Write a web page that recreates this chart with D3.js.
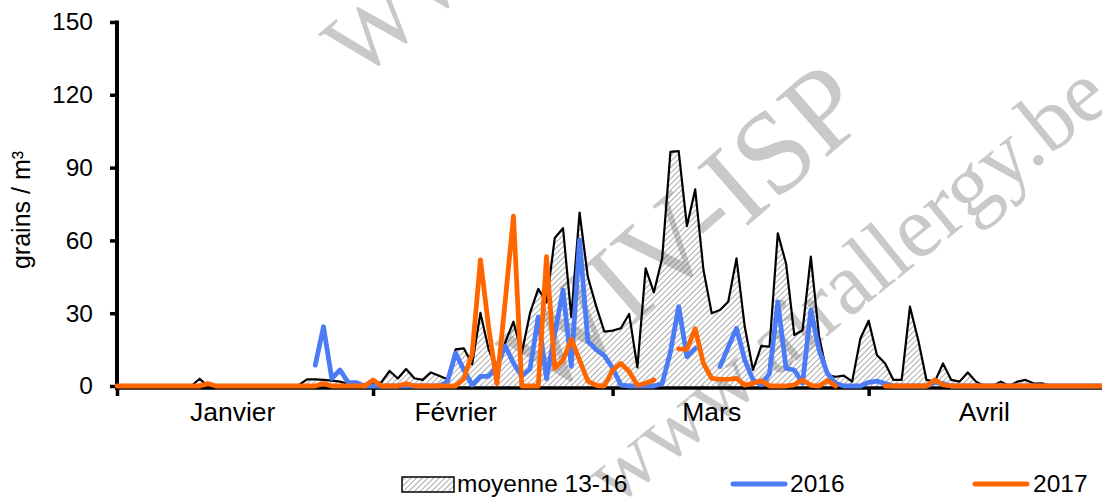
<!DOCTYPE html>
<html>
<head>
<meta charset="utf-8">
<script src="https://cdn.jsdelivr.net/npm/d3@7"></script>
<style>
  html, body { margin: 0; padding: 0; background: #fff; }
  svg { display: block; font-family: "Liberation Sans", Arial, sans-serif; }
</style>
</head>
<body>
<svg id="chart" width="1102" height="500"></svg>
<script>
// ---------- DATA (one value per day, starting 1 January) ----------
const startDate = "2016-01-01";
const seriesNames = ["moyenne 13-16", "2016", "2017"];
const monthLabels = ["Janvier", "Février", "Mars", "Avril"];
const monthStarts = ["2016-01-01", "2016-02-01", "2016-03-01", "2016-04-01"];
const monthLabelDates = ["2016-01-15", "2016-02-11", "2016-03-13", "2016-04-15"];
const yTicks = [0, 30, 60, 90, 120, 150];

const moyenne = [
  0,0,0,0,0,0,0,0,0,0, 3,0,0,0,0,0,0,0,0,0,
  0,0,0.3,2.7,2.7,2.5,2.2,1.8,0.8,0.5, 0.8,1.2,1.5,6.2,3.1,7,3.2,2.5,5.6,4.2,
  2.8,15.1,15.5,9,30.1,15,7,18,26.5,13.5, 30,40,34.5,61,65,28.5,71.5,45,33,22.4,
  22.8,23.8,29.7,7.7,48.5,38.6,52.6,96.5,96.8,65.9, 81,47.8,30,31.3,34.7,52.6,24.4,6.6,16.5,16.2,
  62.9,50.5,21,23,53.3,20.3,4.5,3.8,4.3,1.8, 19.6,26.9,12.8,9.3,2.5,2.5,32.7,19,2.5,1.8,
  9.3,2.5,1.8,5.6,1.8,0,0,1.8,0,1.8, 2.5,1,1.1,0,0,0,0,0,0,0, 0
];
const y2016 = [
  null,null,null,null,null,null,null,null,null,null, null,null,null,null,null,null,null,null,null,null,
  null,null,null,null,8.6,24.4,3.1,6.6,1.4,1.4, 0,0,0,0,0,0,0,0,0,0,
  1.8,13.5,6.5,0.4,4,4,8,16.5,9.5,4, 7,28.5,3,21.7,39.5,8,60.2,18.5,15,12.5,
  7.5,0.4,0,0,0,0,1,14,32.7,12.1, 15.5,null,null,8,16,23.8,10.7,2.5,0.5,5.2,
  34.7,7.3,6.6,1.1,31.3,14.8,5.2,1.1,0,0, 0,1.5,2,1,0,0,0,0,0,1.5,
  1,0,0,0,0,0,0,0,0,0, 0,0,0,0,0,0,0,0,0,0, 0
];
const y2017 = [
  0,0,0,0,0,0,0,0,0,0, 0,1,0,0,0,0,0,0,0,0,
  0,0,0,0,0,1,0,0,0,0, 0,2.5,0,0,0,1,0,0,0,0,
  0,0,3,13.5,52,24,1,35,70,0, 0,0,53.3,7.3,10.7,19.3,10.7,2,0.3,0,
  6.5,9.3,6,0.3,1.1,2.5,null,null,15.3,15.1, 23.6,9.3,3.1,2.7,2.7,3.1,0.4,1.1,2.2,0,
  0,0,0.5,2.5,0.3,0,2.3,0,null,null, null,null,null,0,0,0,0,0,0,2.5,
  0.5,0,0,0,0,0,0,0,0,0, 0,0,0,0,0,0,0,0,0,0, 0
];

// ---------- CHART ----------
const svg = d3.select("#chart");
const parse = d3.timeParse("%Y-%m-%d");
const t0 = parse(startDate);
const dayDate = i => d3.timeDay.offset(t0, i);
const nDays = moyenne.length;

const x = d3.scaleTime()
  .domain([t0, dayDate(nDays - 1)])
  .range([117, 117 + (nDays - 1) * 8.26]);
const y = d3.scaleLinear().domain([0, 150]).range([386, 22]);

const toPts = arr => arr.map((v, i) => ({ date: dayDate(i), v }));

// hatch pattern
const defs = svg.append("defs");
const pat = defs.append("pattern")
  .attr("id", "hatch").attr("patternUnits", "userSpaceOnUse")
  .attr("width", 4).attr("height", 4)
  .attr("patternTransform", "rotate(45)");
pat.append("line").attr("x1", 0).attr("y1", 0).attr("x2", 0).attr("y2", 4)
  .attr("stroke", "#555").attr("stroke-width", 1);

// watermark
const wm = svg.append("g").attr("fill", "#c9c9c9")
  .style("font-family", "'Liberation Serif', 'DejaVu Serif', serif");
wm.append("text").attr("transform", "translate(358,82) rotate(-40)")
  .style("font-size", "95px").text("WWW");
wm.append("text").attr("transform", "translate(545,402) rotate(-41)")
  .style("font-size", "118px").text("WIV-ISP");
wm.append("text").attr("transform", "translate(615,508) rotate(-39)")
  .style("font-size", "88px").text("www.airallergy.be");

// area (moyenne)
const area = d3.area()
  .x(d => x(d.date)).y0(y(0)).y1(d => y(d.v));
const lineGen = d3.line()
  .defined(d => d.v !== null)
  .x(d => x(d.date)).y(d => y(d.v));

svg.append("path").datum(toPts(moyenne))
  .attr("d", area).attr("fill", "url(#hatch)");
svg.append("path").datum(toPts(moyenne))
  .attr("d", lineGen).attr("fill", "none")
  .attr("stroke", "#000").attr("stroke-width", 2.2).attr("stroke-linejoin", "round");

// axes
const yAxis = d3.axisLeft(y).tickValues(yTicks).tickSize(7).tickPadding(17);
const gy = svg.append("g").attr("transform", "translate(117,0)").call(yAxis);
gy.select(".domain").attr("stroke-width", 4).attr("d", "M0,20.5V390");
gy.selectAll(".tick line").attr("stroke-width", 3.5);
gy.selectAll(".tick text").style("font-size", "24.5px").attr("fill", "#000");

const xAxis = d3.axisBottom(x).tickValues(monthStarts.map(parse)).tickSize(8).tickFormat("");
const gx = svg.append("g").attr("transform", "translate(0,388)").call(xAxis);
gx.select(".domain").attr("stroke-width", 3.5).attr("d", "M117,0H1102");
gx.selectAll(".tick line").attr("stroke-width", 3.5);

svg.append("g").selectAll("text").data(monthLabels).join("text")
  .attr("x", (d, i) => x(parse(monthLabelDates[i])))
  .attr("y", 421).attr("text-anchor", "middle")
  .style("font-size", "26.5px").text(d => d);

// y title
svg.append("text").attr("transform", "translate(30,210) rotate(-90)")
  .attr("text-anchor", "middle").style("font-size", "25px").text("grains / m³");

// series lines
const colors = { "2016": "#4b7bf5", "2017": "#ff6600" };
[["2016", y2016], ["2017", y2017]].forEach(([name, arr]) => {
  svg.append("path").datum(toPts(arr))
    .attr("d", lineGen).attr("fill", "none")
    .attr("stroke", colors[name]).attr("stroke-width", 4.8)
    .attr("stroke-linejoin", "round").attr("stroke-linecap", "round");
});

// legend
const lg = svg.append("g");
lg.append("rect").attr("x", 402).attr("y", 477).attr("width", 52).attr("height", 15)
  .attr("fill", "url(#hatch)").attr("stroke", "#000").attr("stroke-width", 1.5);
lg.append("text").attr("x", 457).attr("y", 492).style("font-size", "24.5px").text(seriesNames[0]);
[[seriesNames[1], 733, 790], [seriesNames[2], 975, 1033]].forEach(([name, x0, tx]) => {
  lg.append("line").attr("x1", x0).attr("x2", x0 + 52).attr("y1", 484).attr("y2", 484)
    .attr("stroke", colors[name]).attr("stroke-width", 5).attr("stroke-linecap", "round");
  lg.append("text").attr("x", tx).attr("y", 492).style("font-size", "24.5px").text(name);
});
</script>
</body>
</html>
